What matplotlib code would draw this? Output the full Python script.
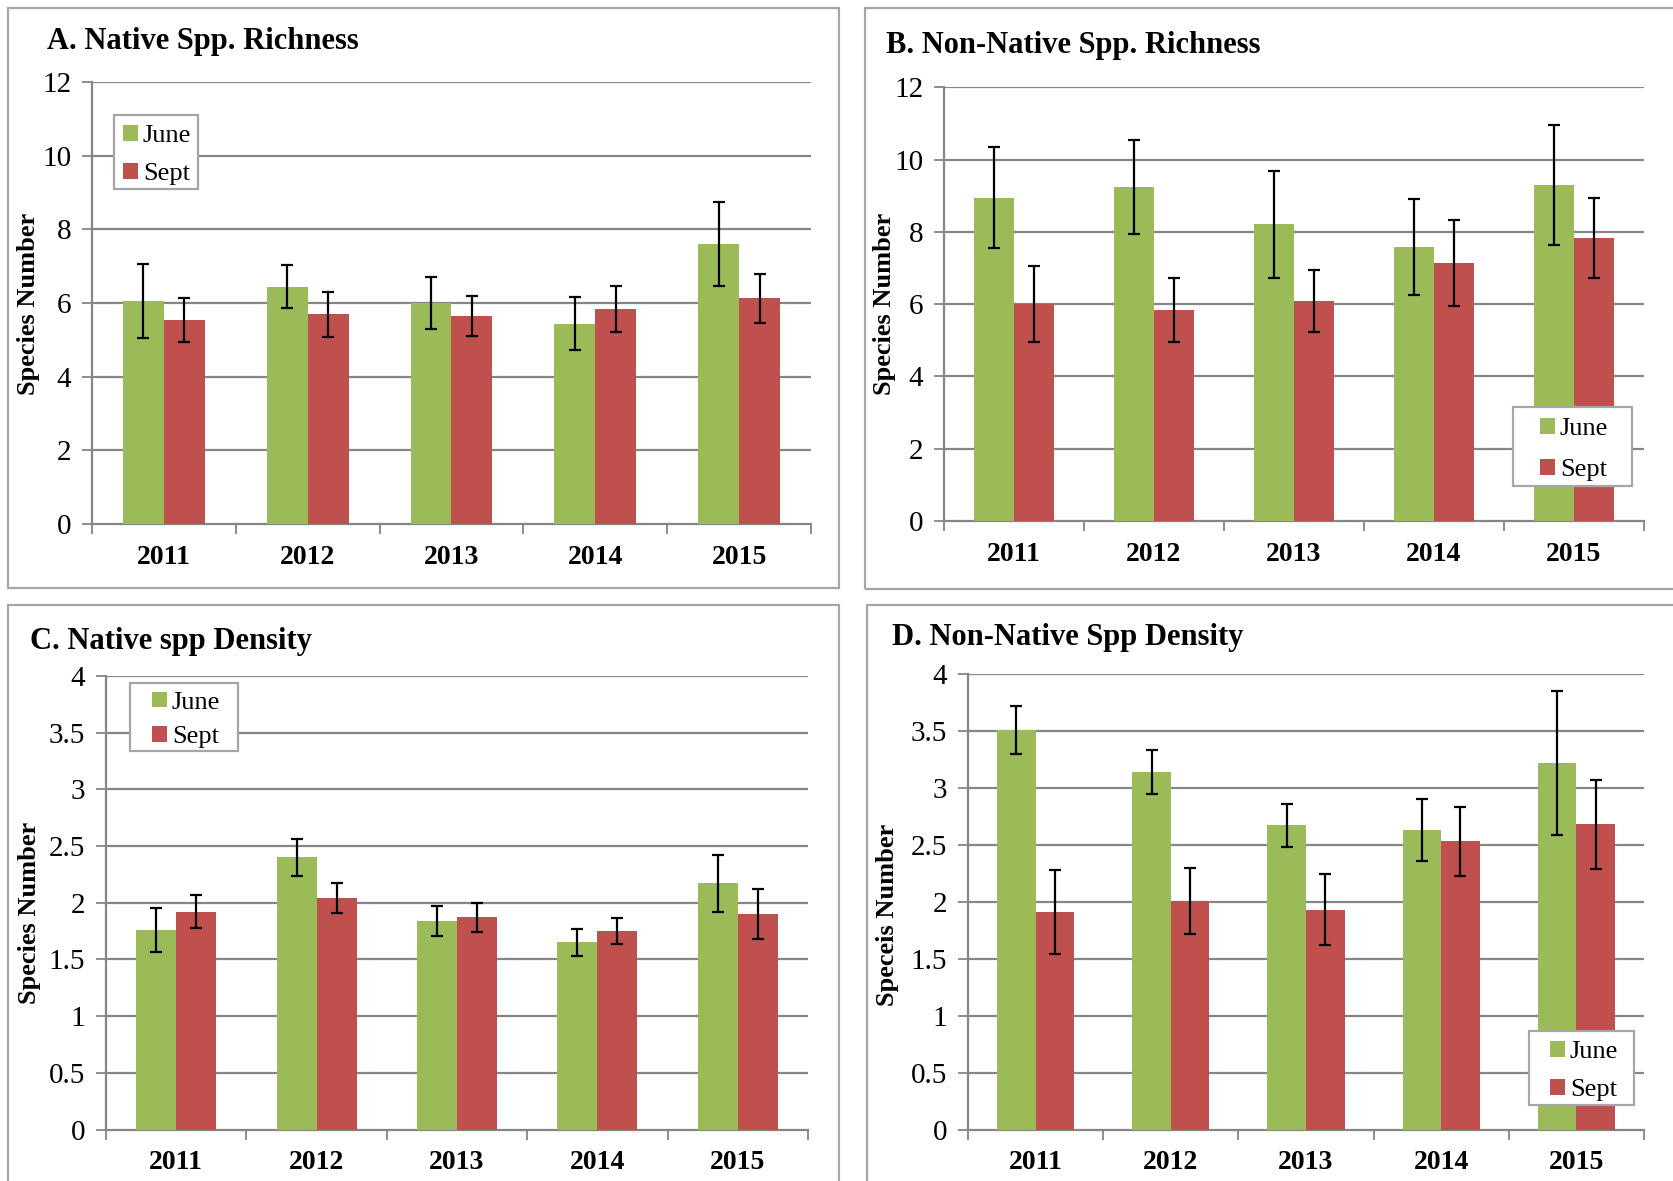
import numpy as np
import matplotlib.pyplot as plt
from matplotlib.patches import Rectangle
from matplotlib.ticker import FixedLocator, FormatStrFormatter

plt.rcParams['font.family'] = ['Liberation Serif', 'DejaVu Serif']

years = ['2011', '2012', '2013', '2014', '2015']

# A. native richness
a_june = [6.05, 6.44, 6.00, 5.44, 7.59]
a_june_err = [1.00, 0.58, 0.71, 0.72, 1.14]
a_sept = [5.54, 5.69, 5.64, 5.83, 6.13]
a_sept_err = [0.60, 0.60, 0.54, 0.62, 0.66]

# B. non-native richness
b_june = [8.95, 9.25, 8.21, 7.59, 9.30]
b_june_err = [1.39, 1.31, 1.47, 1.33, 1.67]
b_sept = [6.00, 5.84, 6.09, 7.15, 7.84]
b_sept_err = [1.05, 0.88, 0.86, 1.19, 1.11]

# C. native density
c_june = [1.76, 2.40, 1.84, 1.65, 2.17]
c_june_err = [0.19, 0.165, 0.13, 0.12, 0.25]
c_sept = [1.92, 2.04, 1.87, 1.75, 1.90]
c_sept_err = [0.145, 0.13, 0.13, 0.117, 0.22]

# D. non-native density
d_june = [3.51, 3.14, 2.67, 2.63, 3.22]
d_june_err = [0.21, 0.19, 0.185, 0.27, 0.63]
d_sept = [1.91, 2.01, 1.93, 2.53, 2.68]
d_sept_err = [0.365, 0.29, 0.31, 0.305, 0.39]

GREEN = '#9BBB59'
RED = '#C0504D'
GRID = '#868686'
FRAME = '#A6A6A6'

W, H = 1674, 1181
fig = plt.figure(figsize=(W / 100, H / 100), dpi=100)


def px_rect(x0, y0, x1, y1):
    return [x0 / W, 1 - y1 / H, (x1 - x0) / W, (y1 - y0) / H]


def box(x0, y0, x1, y1, fill):
    fig.patches.append(Rectangle((x0 / W, 1 - y1 / H), (x1 - x0) / W,
                                 (y1 - y0) / H, transform=fig.transFigure,
                                 fill=fill, facecolor='white',
                                 edgecolor=FRAME, lw=1.6, zorder=5))


def panel(frame, axbox, title, title_xy, ylabel, ylabel_xy, june, june_err,
          sept, sept_err, ymax, ystep, legbox, inset, lspace):
    box(*frame, fill=False)
    ax = fig.add_axes(px_rect(*axbox))
    x = np.arange(len(years))
    bw = 0.285
    ekw = dict(ecolor='black', elinewidth=1.6, capsize=4, capthick=1.6)
    b1 = ax.bar(x - bw / 2, june, bw, yerr=june_err, color=GREEN,
                error_kw=ekw, zorder=3)
    b2 = ax.bar(x + bw / 2, sept, bw, yerr=sept_err, color=RED,
                error_kw=ekw, zorder=3)
    ax.set_xlim(-0.5, len(years) - 0.5)
    ax.set_ylim(0, ymax)
    ticks = np.arange(0, ymax + ystep / 2, ystep)
    ax.yaxis.set_major_locator(FixedLocator(ticks))
    ax.yaxis.set_major_formatter(FormatStrFormatter('%g'))
    ax.set_xticks(x)
    ax.set_xticklabels(years, fontsize=20, fontweight='bold')
    ax.set_xticks(np.arange(-0.5, len(years)), minor=True)
    ax.tick_params(axis='x', which='major', length=0, pad=15)
    ax.tick_params(axis='x', which='minor', length=7, width=1.3, color=GRID,
                   direction='out')
    ax.tick_params(axis='y', length=7, width=1.3, color=GRID, labelsize=21,
                   pad=8)
    for t in ticks[1:]:
        ax.axhline(t, color=GRID, lw=1.6, zorder=1)
    for s in ['top', 'right']:
        ax.spines[s].set_visible(False)
    for s in ['left', 'bottom']:
        ax.spines[s].set_color(GRID)
        ax.spines[s].set_linewidth(1.6)
    ax.set_axisbelow(True)
    fig.text(title_xy[0] / W, 1 - title_xy[1] / H, title, fontsize=22,
             fontweight='bold', ha='left', va='center')
    fig.text(ylabel_xy[0] / W, 1 - ylabel_xy[1] / H, ylabel, fontsize=19,
             fontweight='bold', rotation=90, ha='center', va='center')

    # legend frame drawn by hand so padding matches each panel
    lx0, ly0, lx1, ly1 = legbox
    box(lx0, ly0, lx1, ly1, fill=True)
    leg = fig.legend([b1, b2], ['June', 'Sept'], loc='center left',
                     bbox_to_anchor=((lx0 + inset) / W,
                                     1 - ((ly0 + ly1) / 2 + 3) / H),
                     fontsize=19, frameon=False, handlelength=0.55,
                     handleheight=0.55, handletextpad=0.2,
                     labelspacing=lspace, borderpad=0, borderaxespad=0)
    leg.set_zorder(6)
    return ax


panel((8.5, 8.5, 839, 588), (92, 82, 811, 524), 'A. Native Spp. Richness',
      (47, 41), 'Species Number', (29, 304), a_june, a_june_err, a_sept,
      a_sept_err, 12, 2, (114, 115, 198.5, 189), 9, 0.6)
panel((865, 8.5, 1680, 589), (944, 87.5, 1644, 521),
      'B. Non-Native Spp. Richness', (886, 45), 'Species Number', (885, 304),
      b_june, b_june_err, b_sept, b_sept_err, 12, 2,
      (1513, 407, 1632, 486), 27, 0.7)
panel((8.5, 605, 839, 1190), (106, 676, 808, 1129.5),
      'C. Native spp Density', (30, 642), 'Species Number', (30, 913),
      c_june, c_june_err, c_sept, c_sept_err, 4, 0.5,
      (130, 683, 238, 750.5), 22, 0.45)
panel((867, 605, 1680, 1190), (968, 674, 1644, 1129.5),
      'D. Non-Native Spp Density', (892, 637), 'Speceis Number', (888, 915),
      d_june, d_june_err, d_sept, d_sept_err, 4, 0.5,
      (1529, 1031, 1634.5, 1105), 21, 0.6)

fig.savefig('out.png', dpi=100, facecolor='white')
